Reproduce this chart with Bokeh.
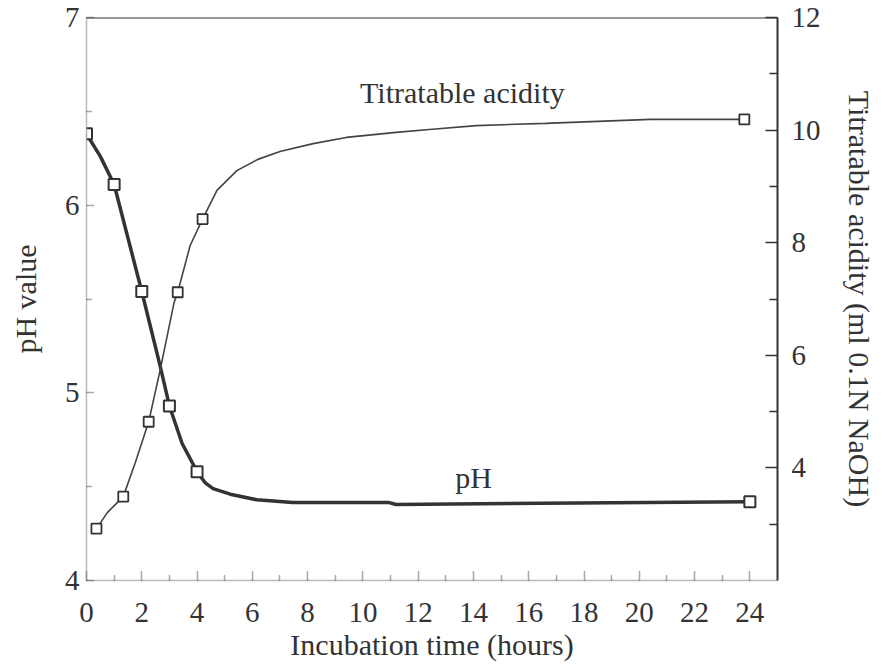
from bokeh.plotting import figure
from bokeh.models import Range1d, LinearAxis, FixedTicker, Span
from bokeh.embed import file_html
from bokeh.resources import INLINE
from bokeh.core.properties import value

# ---- data ----
time_ticks = [0, 2, 4, 6, 8, 10, 12, 14, 16, 18, 20, 22, 24]
time_minor = [1, 3, 5, 7, 9, 11, 13, 15, 17, 19, 21, 23]
ph_ticks = [4, 5, 6, 7]
ph_minor = [4.5, 5.5, 6.5]
acid_ticks = [4, 6, 8, 10, 12]
acid_minor = [3, 5, 7, 9, 11]

# measured points (squares)
ph_time = [0, 1, 2, 3, 4, 24]
ph_vals = [6.38, 6.11, 5.54, 4.93, 4.58, 4.42]
acid_time = [0.36, 1.33, 2.25, 3.3, 4.2, 23.8]
acid_vals = [2.92, 3.49, 4.82, 7.12, 8.42, 10.19]

# traced curves
ph_curve_time = [0, 0.5, 1, 2, 2.67, 3, 3.46, 4, 4.3, 4.58, 5.2, 6.16, 7.46, 10.95, 11.2, 24]
ph_curve_vals = [6.38, 6.26, 6.11, 5.54, 5.14, 4.93, 4.73, 4.58, 4.52, 4.49, 4.46, 4.43, 4.415, 4.415, 4.405, 4.42]
acid_curve_time = [0.36, 0.76, 1.33, 1.77, 2.25, 2.67, 3.17, 3.3, 3.75, 4.2, 4.72, 5.44, 6.2,
                   7.0, 8.2, 9.4, 11.2, 12.4, 14.1, 16.6, 20.4, 23.8]
acid_curve_vals = [2.92, 3.21, 3.49, 4.10, 4.82, 5.75, 6.94, 7.12, 7.95, 8.42, 8.93, 9.28, 9.48,
                   9.62, 9.76, 9.87, 9.96, 10.01, 10.08, 10.12, 10.19, 10.19]

FONT = "Liberation Serif"
INK = "#333333"
FS = "30px"
TFS = "29px"

p = figure(width=882, height=670, output_backend="svg", toolbar_location=None,
           x_range=Range1d(0, 25), y_range=Range1d(4, 7),
           min_border_left=86, min_border_right=105, min_border_top=17, min_border_bottom=90)
p.extra_y_ranges = {"acid": Range1d(2, 12)}
p.grid.visible = False
p.outline_line_color = None
p.background_fill_color = "white"
p.border_fill_color = "white"

def style(ax, dotted):
    ax.axis_line_color = "#777777" if dotted else INK
    ax.axis_line_width = 1.5 if dotted else 2
    if dotted:
        ax.axis_line_dash = "1 1"
        ax.major_tick_line_dash = "1 1"
        ax.minor_tick_line_dash = "1 1"
    ax.major_tick_line_color = "#555555" if dotted else INK
    ax.minor_tick_line_color = "#555555" if dotted else INK
    ax.major_tick_line_width = 1.5
    ax.minor_tick_line_width = 1.5
    ax.major_tick_out = 0
    ax.minor_tick_out = 0
    ax.major_label_text_font = FONT
    ax.major_label_text_font_size = TFS
    ax.major_label_text_color = INK
    ax.axis_label_text_font = FONT
    ax.axis_label_text_font_size = FS
    ax.axis_label_text_font_style = "normal"
    ax.axis_label_text_color = INK

xa = p.xaxis[0]
style(xa, True)
xa.ticker = FixedTicker(ticks=time_ticks, minor_ticks=time_minor)
xa.major_tick_in = 9
xa.minor_tick_in = 5
xa.major_label_standoff = 22
xa.axis_label = "Incubation time (hours)"
xa.axis_label_standoff = 3

ya = p.yaxis[0]
style(ya, True)
ya.ticker = FixedTicker(ticks=ph_ticks, minor_ticks=ph_minor)
ya.major_tick_in = 8
ya.minor_tick_in = 5
ya.major_label_standoff = 7
ya.axis_label = "pH value"
ya.axis_label_standoff = 20

ra = LinearAxis(y_range_name="acid", ticker=FixedTicker(ticks=acid_ticks, minor_ticks=acid_minor),
                axis_label="Titratable acidity (ml 0.1N NaOH)")
style(ra, False)
ra.major_tick_in = 12
ra.minor_tick_in = 8
ra.major_label_standoff = 14
ra.axis_label_standoff = 19
p.add_layout(ra, "right")

p.add_layout(Span(location=7, dimension="width", line_color=INK, line_width=2))

# curves
p.line(ph_curve_time, ph_curve_vals, line_color=INK, line_width=3.5)
p.line(acid_curve_time, acid_curve_vals, line_color="#444444", line_width=1.6, y_range_name="acid")
p.scatter(ph_time, ph_vals, marker="square", size=11, fill_color="white",
          line_color=INK, line_width=2)
p.scatter(acid_time, acid_vals, marker="square", size=10, fill_color="white",
          line_color=INK, line_width=1.8, y_range_name="acid")

p.text(x=[13.6], y=[6.6], text=["Titratable acidity"], text_font=value(FONT),
       text_font_size=FS, text_color=INK, text_align="center", text_baseline="middle")
p.text(x=[14.0], y=[4.55], text=["pH"], text_font=value(FONT),
       text_font_size=FS, text_color=INK, text_align="center", text_baseline="middle")

open("out.html", "w").write(file_html(p, INLINE))
